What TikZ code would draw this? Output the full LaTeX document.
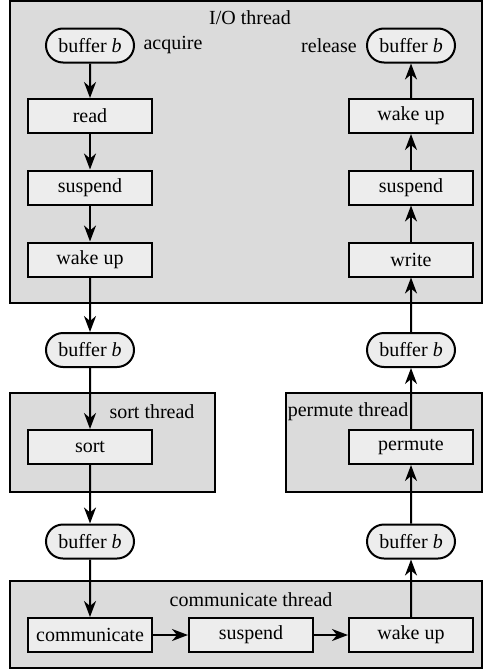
\documentclass[tikz,border=0pt]{standalone}
\usepackage{fontspec}
\setmainfont{Liberation Serif}
\usetikzlibrary{arrows.meta,shapes.misc}
\definecolor{threadgray}{gray}{0.86}
\definecolor{stepgray}{gray}{0.93}
\tikzset{
  thread/.style={draw,line width=1pt,fill=threadgray},
  stepbox/.style={draw,line width=1pt,fill=stepgray,rectangle,
    minimum width=62pt,minimum height=17pt,inner sep=0pt},
  buf/.style={draw,line width=1pt,fill=stepgray,rounded rectangle,
    minimum width=44pt,minimum height=17pt,inner sep=0pt},
  flow/.style={line width=1pt,-{Stealth[length=8pt,width=6pt,inset=2.5pt]}}
}
\begin{document}
\begin{tikzpicture}
  [x=0.5pt,y=-0.5pt]
\useasboundingbox (0,0) rectangle (483,669);
% thread boxes
\draw[thread] (10,1) rectangle (481.5,303);
\draw[thread] (10,393) rectangle (215,492);
\draw[thread] (286,393) rectangle (481.5,492);
\draw[thread] (10,581) rectangle (481.5,668);
\node (tio) at (250,18) {I/O thread};
\node (tsort) at (152,412) {sort thread};
\node (tperm) at (348,412) {permute thread};
\node (tcomm) at (251,600) {communicate thread};

% I/O thread
\node (b1)[buf] at (90,45.5) {buffer \textit{b}};
\node (acq) at (173,45.5) {acquire};
\node (n1)[stepbox] at (90,116) {read};
\node (n2)[stepbox] at (90,187.5) {suspend};
\node (n3)[stepbox] at (90,259.5) {wake up};
\node (b6)[buf] at (411,45.5) {buffer \textit{b}};
\node (rel) at (329,45.5) {release};
\node (n10)[stepbox] at (411,116) {wake up};
\node (n9)[stepbox] at (411,187.5) {suspend};
\node (n8)[stepbox] at (411,259.5) {write};

% sort / permute
\node (b2)[buf] at (90,350) {buffer \textit{b}};
\node (n4)[stepbox] at (90,447) {sort};
\node (b3)[buf] at (90,541.5) {buffer \textit{b}};
\node (b5)[buf] at (411,350) {buffer \textit{b}};
\node (n7)[stepbox] at (411,447) {permute};
\node (b4)[buf] at (411,541.5) {buffer \textit{b}};

% communicate thread
\node (n5)[stepbox] at (90,635) {communicate};
\node (n6)[stepbox] at (251,635) {suspend};
\node (n11)[stepbox] at (411,635) {wake up};

\foreach \from/\to in {b1/n1,n1/n2,n2/n3,n3/b2,b2/n4,n4/b3,b3/n5,
    n11/b4,b4/n7,n7/b5,b5/n8,n8/n9,n9/n10,n10/b6}
  \draw[flow] (\from) -- (\to);
\foreach \from/\to in {n5/n6,n6/n11}
  \draw[flow] (\from) -- (\to);
\end{tikzpicture}
\end{document}
